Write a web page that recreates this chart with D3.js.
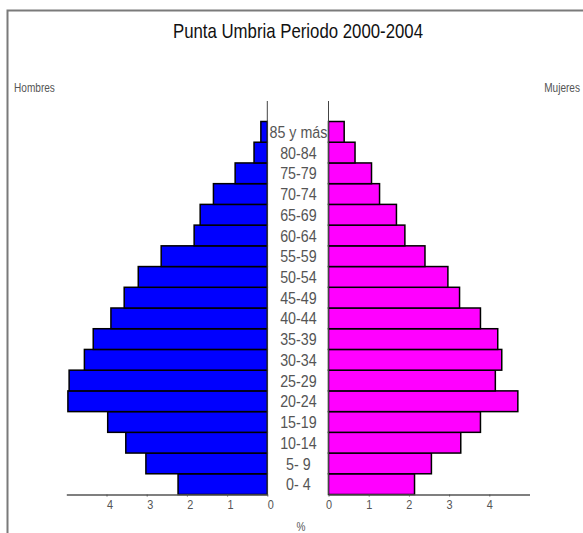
<!DOCTYPE html>
<html>
<head>
<meta charset="utf-8">
<script src="https://cdn.jsdelivr.net/npm/d3@7"></script>
<style>
  html, body { margin: 0; padding: 0; background: #fff; }
  svg { display: block; }
  text { font-family: "Liberation Sans Narrow", "Arial Narrow", "Liberation Sans", Arial, sans-serif; }
</style>
</head>
<body>
<svg id="chart" width="583" height="533"></svg>
<script>
const title = "Punta Umbria Periodo 2000-2004";
const ageGroups = ["0- 4","5- 9","10-14","15-19","20-24","25-29","30-34","35-39","40-44","45-49","50-54","55-59","60-64","65-69","70-74","75-79","80-84","85 y más"];
const hombres = [2.22,3.02,3.52,3.97,4.96,4.93,4.55,4.33,3.89,3.56,3.21,2.64,1.82,1.67,1.34,0.80,0.33,0.16];
const mujeres = [2.14,2.56,3.29,3.78,4.71,4.15,4.31,4.21,3.78,3.26,2.97,2.40,1.90,1.69,1.27,1.07,0.66,0.39];
const tickValues = [0,1,2,3,4];
const leftLabel = "Hombres", rightLabel = "Mujeres", unitLabel = "%";

const svg = d3.select("#chart");
const SX = 0.84; // horizontal condensing to imitate a narrow font

function narrowText(parent, x, y, txt, size, anchor, fill) {
  return parent.append("text")
    .attr("transform", `translate(${x},${y}) scale(${SX},1)`)
    .attr("text-anchor", anchor).attr("font-size", size).attr("fill", fill).text(txt);
}

// frame
svg.append("path").attr("d","M7.5,533 V10.5 H583").attr("fill","none").attr("stroke","#7a7a7a").attr("stroke-width",2);

const xL = d3.scaleLinear().domain([0,5]).range([267.3,66.3]);
const xR = d3.scaleLinear().domain([0,5]).range([328.5,529.5]);
const y = d3.scaleBand().domain(ageGroups.slice().reverse()).range([121.5,494.5]).padding(0);

// bars
svg.append("g").selectAll("rect").data(ageGroups).join("rect")
  .attr("x", (d,i)=>xL(hombres[i]))
  .attr("y", d=>y(d))
  .attr("width", (d,i)=>xL(0)-xL(hombres[i]))
  .attr("height", y.bandwidth())
  .attr("fill","#0000ff").attr("stroke","#000").attr("stroke-width",1.5);
svg.append("g").selectAll("rect").data(ageGroups).join("rect")
  .attr("x", xR(0))
  .attr("y", d=>y(d))
  .attr("width", (d,i)=>xR(mujeres[i])-xR(0))
  .attr("height", y.bandwidth())
  .attr("fill","#ff00ff").attr("stroke","#000").attr("stroke-width",1.5);

// vertical axis lines
svg.append("line").attr("x1",xL(0)).attr("x2",xL(0)).attr("y1",101).attr("y2",494.5).attr("stroke","#444").attr("stroke-width",1);
svg.append("line").attr("x1",xR(0)).attr("x2",xR(0)).attr("y1",101).attr("y2",494.5).attr("stroke","#444").attr("stroke-width",1);

// bottom axes
const axL = d3.axisBottom(xL).tickValues(tickValues).tickSize(2).tickSizeOuter(0).tickFormat(d3.format("d"));
const axR = d3.axisBottom(xR).tickValues(tickValues).tickSize(2).tickSizeOuter(0).tickFormat(d3.format("d"));
[axL, axR].forEach((ax,k)=>{
  const g = svg.append("g").attr("transform","translate(0,494.5)").call(ax);
  g.select(".domain").attr("stroke","#555").attr("stroke-width",1.5);
  g.selectAll(".tick line").attr("stroke","#555");
  g.selectAll(".tick text").attr("fill","#555").attr("font-size",13)
    .attr("font-family",'"Liberation Sans Narrow","Arial Narrow","Liberation Sans",Arial,sans-serif')
    .attr("y", 5).attr("dy","0.71em")
    .attr("transform", `translate(${k===0 ? 3 : 0},0) scale(${SX},1)`);
});

// category labels
const labG = svg.append("g");
ageGroups.forEach(d=>{
  narrowText(labG, (xL(0)+xR(0))/2 + 0.5, y(d)+y.bandwidth()/2, d, 17, "middle", "#555").attr("dy","0.36em");
});

// title and side labels
narrowText(svg, 298, 38, title, 20, "middle", "#111");
narrowText(svg, 14, 92, leftLabel, 12, "start", "#555");
narrowText(svg, 580, 92, rightLabel, 12, "end", "#555");
narrowText(svg, 301, 531, unitLabel, 12, "middle", "#555");
</script>
</body>
</html>
